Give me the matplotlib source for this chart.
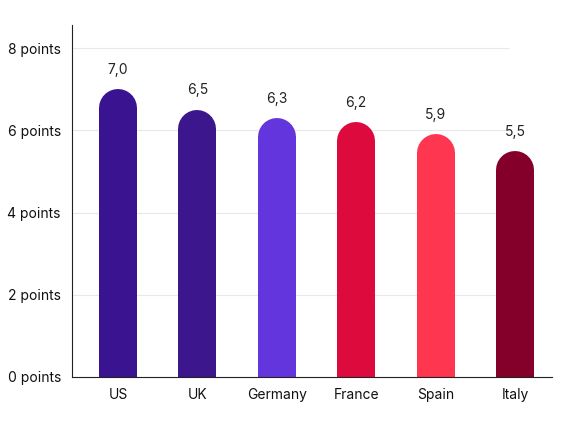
import matplotlib
matplotlib.use("Agg")
import matplotlib.pyplot as plt

countries = ["US", "UK", "Germany", "France", "Spain", "Italy"]
scores = [7.0, 6.5, 6.3, 6.2, 5.9, 5.5]
colors = ["#3a1391", "#3b168c", "#6335dc", "#dc0a3d", "#fe3650", "#84002b"]
yticks = [0, 2, 4, 6, 8]

fig = plt.figure(figsize=(5.63, 4.25), dpi=100)
ax = fig.add_axes([0.128, 0.113, 0.853, 0.828])
ax.set_xlim(-0.58, 5.47)
ax.set_ylim(0, 8.56)

ax.hlines(yticks[1:], -0.58, 4.93, color="#e6e8ec", lw=0.8, zorder=0)

bar_px = 38
radius = (bar_px / 2) / (352 / 8.56)
for i, (v, c) in enumerate(zip(scores, colors)):
    ax.plot([i, i], [0, v - radius], color=c, lw=bar_px * 0.72,
            solid_capstyle="round", zorder=2)
    ax.text(i, v + 0.3, f"{v:.1f}".replace(".", ","), ha="center", va="bottom",
            fontsize=10, color="#222222", family="Inter")

ax.set_xticks(range(len(countries)))
ax.set_xticklabels(countries, fontsize=10, family="Inter", color="#111111")
ax.set_yticks(yticks)
ax.set_yticklabels([f"{t} points" for t in yticks], fontsize=10, family="Inter", color="#111111")
ax.tick_params(length=0, pad=8)
for s in ["top", "right"]:
    ax.spines[s].set_visible(False)
ax.spines["left"].set_color("#222222")
ax.spines["bottom"].set_color("#222222")

fig.savefig("out.png", dpi=100)
